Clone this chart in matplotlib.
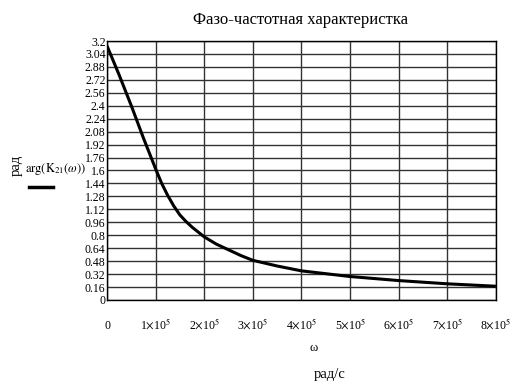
import matplotlib as mpl
mpl.use('Agg')
import matplotlib.pyplot as plt
import numpy as np

# values
omega = [0, 0.25e5, 0.5e5, 0.75e5, 1.0e5, 1.125e5, 1.25e5, 1.375e5, 1.5e5, 1.625e5,
         1.75e5, 2.0e5, 2.25e5, 2.5e5, 2.75e5, 3.0e5, 3.5e5, 4.0e5, 5.0e5, 6.0e5,
         7.0e5, 8.0e5]
phase = [3.14, 2.78, 2.40, 2.00, 1.62, 1.44, 1.29, 1.16, 1.05, 0.97,
         0.90, 0.78, 0.69, 0.62, 0.55, 0.49, 0.42, 0.36, 0.29, 0.24,
         0.20, 0.17]

y_ticks = [round(0.16 * i, 2) for i in range(21)]
y_labels = ['%g' % v for v in y_ticks]
x_ticks = [i * 1e5 for i in range(9)]
x_labels = ['0'] + [r'%d$\times$10$^5$' % i for i in range(1, 9)]

plt.rcParams['font.family'] = ['Liberation Serif', 'DejaVu Serif']
plt.rcParams['mathtext.fontset'] = 'stix'

fig = plt.figure(figsize=(5.22, 3.85), dpi=100)
ax = fig.add_axes([0.205, 0.2208, 0.745, 0.6727])

ax.plot(omega, phase, color='black', linewidth=2.2, solid_capstyle='butt')

ax.set_xlim(0, 8e5)
ax.set_ylim(0, 3.2)
ax.set_xticks(x_ticks)
ax.set_xticklabels(x_labels, fontsize=8.5)
ax.set_yticks(y_ticks)
ax.set_yticklabels(y_labels, fontsize=8.5)
ax.tick_params(axis='both', length=0)
ax.tick_params(axis='y', pad=1)
ax.tick_params(axis='x', pad=21)
for lbl in ax.get_xticklabels():
    lbl.set_verticalalignment('baseline')
ax.grid(True, color='#333333', linewidth=1.0)
ax.set_axisbelow(True)
for s in ax.spines.values():
    s.set_color('black')
    s.set_linewidth(1.0)

fig.text(0.575, 0.948, 'Фазо-частотная характеристка', ha='center', va='center', fontsize=12)
fig.text(0.60, 0.095, 'ω', ha='center', va='center', fontsize=9)
fig.text(0.632, 0.026, 'рад/с', ha='center', va='center', fontsize=10.5)
fig.text(0.031, 0.571, 'рад', ha='center', va='center', fontsize=10.5, rotation=90)
fig.text(0.166, 0.562, r'$\mathrm{arg}\left(\mathrm{K}_{21}(\omega)\right)$', ha='right', va='center', fontsize=9)
fig.add_artist(plt.Line2D([0.055, 0.102], [0.515, 0.515], color='black', linewidth=2.5,
                          transform=fig.transFigure))

plt.savefig('out.png', dpi=100)
